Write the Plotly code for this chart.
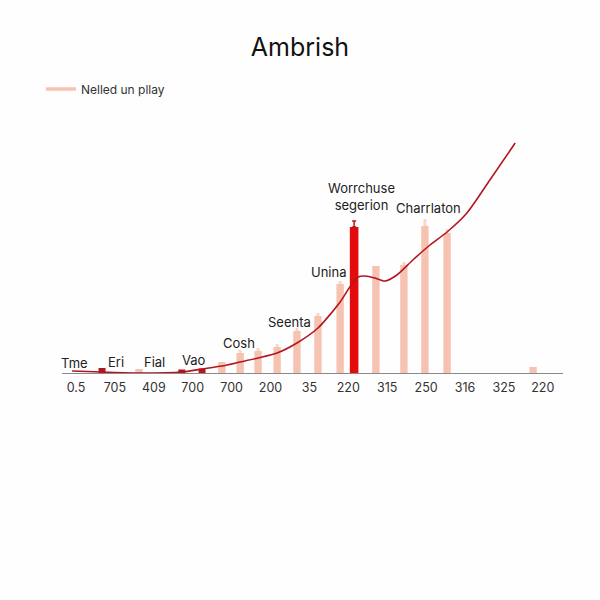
import plotly.graph_objects as go

# ---- data ----
tick_labels = ["0.5", "705", "409", "700", "700", "200", "35", "220", "315", "250", "316", "325", "220"]
tick_pos = list(range(len(tick_labels)))

bar_x = [1.62, 3.75, 4.22, 4.68, 5.17, 5.68, 6.22, 6.79, 7.71, 8.43, 8.97, 9.54, 11.75]
bar_h = [1.6, 4.4, 8.0, 8.8, 10.4, 16.8, 22.8, 35.6, 42.8, 43.2, 58.8, 56.0, 2.4]
bar_cap = [0.0, 0.0, 1.2, 1.2, 1.2, 1.2, 1.2, 1.2, 0.0, 1.2, 2.8, 1.6, 0.0]

hl_x = [7.15]
hl_h = [58.4]

small_x = [0.67, 2.72, 3.24]
small_h = [2.0, 1.4, 1.8]

line_x = [-0.10, 0.67, 1.65, 2.72, 3.24, 3.75, 4.22, 4.68, 5.17, 5.68, 6.22, 6.79, 7.04,
          7.25, 7.43, 7.69, 7.94, 8.25, 8.66, 9.10, 9.54, 10.05, 10.64, 11.29]
line_y = [0.8, 0.4, 0.0, 0.4, 1.6, 2.8, 4.4, 6.0, 8.0, 12.0, 18.0, 28.4, 34.4,
          38.4, 38.8, 38.0, 36.8, 39.2, 45.2, 51.2, 56.4, 64.0, 77.2, 92.0]

label_text = ["Tme", "Eri", "Fial", "Vao", "Cosh", "Seenta", "Unina",
              "Worrchuse<br>segerion", "Charrlaton"]
label_x = [-0.03, 1.03, 2.03, 3.03, 4.19, 5.48, 6.5, 7.35, 9.05]
label_y = [4.0, 4.4, 4.4, 5.2, 12.0, 20.4, 40.4, 70.8, 66.0]

series_name = "Nelled un pllay"

# ---- styles ----
SALMON = "#f6c3b2"
SALMON_CAP = "#fad6ca"
RED = "#e30b0b"
DARK_RED = "#b3161e"
FONT = "Inter"

fig = go.Figure()

fig.add_trace(go.Bar(
    x=bar_x, y=bar_h, width=0.19,
    marker=dict(color=SALMON, line=dict(width=0)),
    error_y=dict(type="data", symmetric=False, array=bar_cap, arrayminus=[0] * len(bar_cap),
                 color=SALMON_CAP, thickness=3, width=0),
    showlegend=False, hoverinfo="skip"))

fig.add_trace(go.Bar(
    x=hl_x, y=hl_h, width=0.22,
    marker=dict(color=RED, line=dict(width=0)),
    error_y=dict(type="data", symmetric=False, array=[2.4], arrayminus=[0],
                 color=DARK_RED, thickness=1.5, width=2),
    showlegend=False, hoverinfo="skip"))

fig.add_trace(go.Bar(
    x=small_x, y=small_h, width=0.18,
    marker=dict(color=DARK_RED, line=dict(width=0)),
    showlegend=False, hoverinfo="skip"))

fig.add_trace(go.Scatter(
    x=line_x, y=line_y, mode="lines",
    line=dict(color=DARK_RED, width=1.6, shape="spline", smoothing=0.7),
    showlegend=False, hoverinfo="skip"))

# legend entry
fig.add_trace(go.Scatter(
    x=[None], y=[None], mode="lines",
    line=dict(color=SALMON, width=3.5), name=series_name))

for t, x, y in zip(label_text, label_x, label_y):
    fig.add_annotation(x=x, y=y, xref="x", yref="y", text=t, showarrow=False,
                       font=dict(family=FONT, size=13, color="#222222"),
                       xanchor="center", yanchor="middle")

fig.update_layout(
    width=600, height=600,
    paper_bgcolor="#fefefe", plot_bgcolor="#fefefe",
    margin=dict(l=62, r=37, t=123, b=227),
    barmode="overlay",
    title=dict(text="Ambrish", x=0.5, xanchor="center", y=0.922, yanchor="middle",
               font=dict(family=FONT, size=25, color="#111111")),
    legend=dict(x=-0.042, xanchor="left", y=1.136, yanchor="middle",
                font=dict(family=FONT, size=12, color="#333333"),
                bgcolor="rgba(0,0,0,0)"),
    font=dict(family=FONT),
)

fig.update_xaxes(range=[-0.36, 12.52], tickmode="array", tickvals=tick_pos, ticktext=tick_labels,
                 showgrid=False, zeroline=False, showline=True, linecolor="#8a8a8a", linewidth=1,
                 ticks="", ticklabelstandoff=3,
                 tickfont=dict(family=FONT, size=12.5, color="#333333"))
fig.update_yaxes(range=[0, 100], visible=False, showgrid=False, zeroline=False)

fig.write_html("out.html")
